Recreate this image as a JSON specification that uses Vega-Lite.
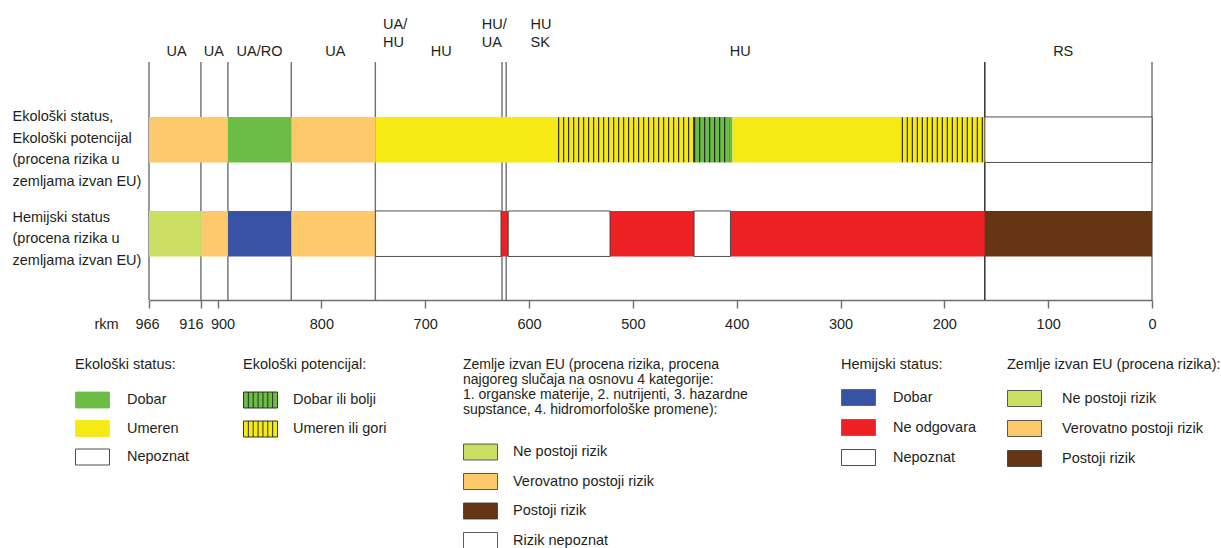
{
  "$schema": "https://vega.github.io/schema/vega-lite/v6.json",
  "width": 1003,
  "height": 238,
  "autosize": {"type": "none"},
  "padding": {"left": 149, "top": 62, "right": 69, "bottom": 248},
  "background": "white",
  "config": {
    "view": {"stroke": null},
    "font": "Liberation Sans",
    "legend": {
      "titleFontWeight": "normal",
      "titleFontSize": 14.5,
      "labelFontSize": 14.5,
      "titleColor": "#231f20",
      "labelColor": "#231f20",
      "padding": 0,
      "titleLimit": 0,
      "labelLimit": 0,
      "symbolSize": 256,
      "titleAnchor": "start",
      "symbolType": "M-1,-1H3.25V1H-1Z"
    }
  },
  "datasets": {
    "borders": [
      {"km": 966, "kind": "edge"},
      {"km": 916, "kind": "border"},
      {"km": 890, "kind": "border"},
      {"km": 829, "kind": "border"},
      {"km": 748, "kind": "border"},
      {"km": 626, "kind": "border"},
      {"km": 622, "kind": "border"},
      {"km": 161, "kind": "main"},
      {"km": 0, "kind": "edge"}
    ],
    "segments": [
      {"row": "Ekološki status,|Ekološki potencijal|(procena rizika u|zemljama izvan EU)", "group": "risk3", "cat": "Verovatno postoji rizik", "from": 966, "to": 890},
      {"row": "Ekološki status,|Ekološki potencijal|(procena rizika u|zemljama izvan EU)", "group": "ecoStatus", "cat": "Dobar", "from": 890, "to": 829},
      {"row": "Ekološki status,|Ekološki potencijal|(procena rizika u|zemljama izvan EU)", "group": "risk3", "cat": "Verovatno postoji rizik", "from": 829, "to": 748},
      {"row": "Ekološki status,|Ekološki potencijal|(procena rizika u|zemljama izvan EU)", "group": "ecoStatus", "cat": "Umeren", "from": 748, "to": 572},
      {"row": "Ekološki status,|Ekološki potencijal|(procena rizika u|zemljama izvan EU)", "group": "ecoPot", "cat": "Umeren ili gori", "from": 572, "to": 441},
      {"row": "Ekološki status,|Ekološki potencijal|(procena rizika u|zemljama izvan EU)", "group": "ecoPot", "cat": "Dobar ili bolji", "from": 441, "to": 407},
      {"row": "Ekološki status,|Ekološki potencijal|(procena rizika u|zemljama izvan EU)", "group": "ecoStatus", "cat": "Dobar", "from": 407, "to": 404},
      {"row": "Ekološki status,|Ekološki potencijal|(procena rizika u|zemljama izvan EU)", "group": "ecoStatus", "cat": "Umeren", "from": 404, "to": 241},
      {"row": "Ekološki status,|Ekološki potencijal|(procena rizika u|zemljama izvan EU)", "group": "ecoPot", "cat": "Umeren ili gori", "from": 241, "to": 161},
      {"row": "Ekološki status,|Ekološki potencijal|(procena rizika u|zemljama izvan EU)", "group": "risk3", "cat": "Rizik nepoznat", "from": 161, "to": 0},
      {"row": "Hemijski status|(procena rizika u|zemljama izvan EU)", "group": "risk5", "cat": "Ne postoji rizik", "from": 966, "to": 916},
      {"row": "Hemijski status|(procena rizika u|zemljama izvan EU)", "group": "risk5", "cat": "Verovatno postoji rizik", "from": 916, "to": 890},
      {"row": "Hemijski status|(procena rizika u|zemljama izvan EU)", "group": "chemStatus", "cat": "Dobar", "from": 890, "to": 829},
      {"row": "Hemijski status|(procena rizika u|zemljama izvan EU)", "group": "risk5", "cat": "Verovatno postoji rizik", "from": 829, "to": 748},
      {"row": "Hemijski status|(procena rizika u|zemljama izvan EU)", "group": "chemStatus", "cat": "Nepoznat", "from": 748, "to": 627},
      {"row": "Hemijski status|(procena rizika u|zemljama izvan EU)", "group": "chemStatus", "cat": "Ne odgovara", "from": 627, "to": 620},
      {"row": "Hemijski status|(procena rizika u|zemljama izvan EU)", "group": "chemStatus", "cat": "Nepoznat", "from": 620, "to": 522},
      {"row": "Hemijski status|(procena rizika u|zemljama izvan EU)", "group": "chemStatus", "cat": "Ne odgovara", "from": 522, "to": 441},
      {"row": "Hemijski status|(procena rizika u|zemljama izvan EU)", "group": "chemStatus", "cat": "Nepoznat", "from": 441, "to": 406},
      {"row": "Hemijski status|(procena rizika u|zemljama izvan EU)", "group": "chemStatus", "cat": "Ne odgovara", "from": 406, "to": 161},
      {"row": "Hemijski status|(procena rizika u|zemljama izvan EU)", "group": "risk5", "cat": "Postoji rizik", "from": 161, "to": 0}
    ]
  },
  "layer": [
    {
      "data": {"name": "borders"},
      "mark": {"type": "rule", "strokeWidth": 1.4},
      "encoding": {
        "x": {
          "field": "km",
          "type": "quantitative",
          "scale": {"domain": [966, 0], "nice": false, "zero": false},
          "axis": {
            "orient": "top",
            "title": null,
            "values": [940, 904, 860, 787, 741, 685, 646, 599, 397, 86],
            "labelExpr": "datum.value == 940 ? 'UA' : datum.value == 904 ? 'UA' : datum.value == 860 ? 'UA/RO' : datum.value == 787 ? 'UA' : datum.value == 741 ? ['UA/', 'HU'] : datum.value == 685 ? 'HU' : datum.value == 646 ? ['HU/', 'UA'] : datum.value == 599 ? ['HU', 'SK'] : datum.value == 397 ? 'HU' : 'RS'",
            "domain": false,
            "ticks": false,
            "tickSize": 0,
            "grid": false,
            "labelFontSize": 14.5,
            "labelColor": "#231f20",
            "labelBaseline": "top",
            "labelLineHeight": 18,
            "labelAlign": {"condition": {"test": "datum.value == 741 || datum.value == 646 || datum.value == 599", "value": "left"}, "value": "center"},
            "labelPadding": {"condition": {"test": "datum.value == 741 || datum.value == 646 || datum.value == 599", "value": 45}, "value": 18},
            "labelOverlap": false,
            "labelFlush": false,
            "labelBound": false
          }
        },
        "color": {
          "condition": {"test": "datum.kind == 'main'", "value": "#231f20"},
          "value": "#6d6e70"
        }
      }
    },
    {
      "data": {"name": "segments"},
      "transform": [{"filter": "datum.group == 'ecoStatus'"}],
      "mark": {"type": "rect"},
      "encoding": {
        "x": {
          "field": "from",
          "type": "quantitative",
          "scale": {"domain": [966, 0], "nice": false, "zero": false},
          "axis": {
            "orient": "bottom",
            "values": [966, 916, 900, 800, 700, 600, 500, 400, 300, 200, 100, 0],
            "format": "d",
            "title": "rkm",
            "titleAngle": 0,
            "titleX": -43,
            "titleY": 24,
            "titleAlign": "center",
            "titleBaseline": "middle",
            "titleFontWeight": "normal",
            "titleFontSize": 14.5,
            "titleColor": "#231f20",
            "tickSize": 8,
            "tickColor": "#6d6e70",
            "tickWidth": 1.4,
            "domainColor": "#6d6e70",
            "domainWidth": 1.5,
            "labelPadding": 9,
            "labelFontSize": 14.5,
            "labelColor": "#231f20",
            "labelFlush": false,
            "labelOverlap": false,
            "labelOffset": {"condition": [{"test": "datum.value == 916", "value": -10}, {"test": "datum.value == 900", "value": 5}, {"test": "datum.value == 966", "value": -2}], "value": 0},
            "grid": false
          }
        },
        "x2": {"field": "to"},
        "y": {
          "field": "row",
          "type": "nominal",
          "sort": null,
          "scale": {
            "domain": ["Ekološki status,|Ekološki potencijal|(procena rizika u|zemljama izvan EU)", "Hemijski status|(procena rizika u|zemljama izvan EU)"],
            "paddingInner": 0.516,
            "paddingOuter": 0.524,
            "align": 0.558
          },
          "axis": {
            "title": null,
            "ticks": false,
            "domain": false,
            "grid": false,
            "labelAlign": "left",
            "labelBaseline": "top",
            "labelPadding": 137,
            "labelExpr": "split(datum.label, '|')",
            "labelLineHeight": 21.5,
            "labelFontSize": 14.5,
            "labelColor": "#231f20",
            "labelLimit": 0,
            "labelOffset": {"condition": {"test": "indexof(datum.value, 'Hemijski') == 0", "value": -23}, "value": -29.5}
          }
        },
        "fill": {
          "field": "cat",
          "type": "nominal",
          "scale": {"domain": ["Dobar", "Umeren", "Nepoznat"], "range": ["#6cbd45", "#f5ea14", "#ffffff"]},
          "legend": {
            "title": "Ekološki status:",
            "orient": "none",
            "legendX": -74,
            "legendY": 296,
            "labelOffset": 35,
            "rowPadding": 7.5,
            "titlePadding": 19,
            "encode": {"symbols": {"update": {"stroke": {"signal": "datum.value == 'Nepoznat' ? '#231f20' : datum.value == 'Dobar' ? '#6cbd45' : '#f5ea14'"}, "strokeWidth": {"value": 0.8}}}}
          }
        }
      }
    },
    {
      "data": {"name": "segments"},
      "transform": [{"filter": "datum.group == 'ecoPot'"}],
      "mark": {"type": "rect"},
      "encoding": {
        "x": {"field": "from", "type": "quantitative", "scale": {"domain": [966, 0], "nice": false, "zero": false}, "axis": null},
        "x2": {"field": "to"},
        "y": {"field": "row", "type": "nominal", "sort": null, "axis": null},
        "fill": {
          "field": "cat",
          "type": "nominal",
          "scale": {"domain": ["Dobar ili bolji", "Umeren ili gori"], "range": ["#6cbd45", "#f5ea14"]},
          "legend": {
            "title": "Ekološki potencijal:",
            "orient": "none",
            "legendX": 94,
            "legendY": 296,
            "labelOffset": 33,
            "rowPadding": 8,
            "titlePadding": 19,
            "symbolType": "M-1,-1H3.25V1H-1Z M-0.393,-1V1 M0.214,-1V1 M0.821,-1V1 M1.429,-1V1 M2.036,-1V1 M2.643,-1V1",
            "encode": {"symbols": {"update": {"stroke": {"value": "#231f20"}, "strokeWidth": {"value": 0.9}}}}
          }
        }
      }
    },
    {
      "data": {"name": "segments"},
      "transform": [{"filter": "datum.group == 'ecoPot'"}],
      "mark": {"type": "rule", "strokeWidth": 45, "strokeDash": [1.1, 3.9], "strokeCap": "butt", "color": "#231f20"},
      "encoding": {
        "x": {"field": "from", "type": "quantitative", "scale": {"domain": [966, 0], "nice": false, "zero": false}, "axis": null},
        "x2": {"field": "to"},
        "y": {"field": "row", "type": "nominal", "sort": null, "axis": null}
      }
    },
    {
      "data": {"name": "segments"},
      "transform": [{"filter": "datum.group == 'risk3'"}],
      "mark": {"type": "rect"},
      "encoding": {
        "x": {"field": "from", "type": "quantitative", "scale": {"domain": [966, 0], "nice": false, "zero": false}, "axis": null},
        "x2": {"field": "to"},
        "y": {"field": "row", "type": "nominal", "sort": null, "axis": null},
        "fill": {
          "field": "cat",
          "type": "nominal",
          "scale": {"domain": ["Ne postoji rizik", "Verovatno postoji rizik", "Postoji rizik", "Rizik nepoznat"], "range": ["#cddf62", "#fdc96b", "#663514", "#ffffff"]},
          "legend": {
            "title": ["Zemlje izvan EU (procena rizika, procena", "najgoreg slučaja na osnovu 4 kategorije:", "1. organske materije, 2. nutrijenti, 3. hazardne", "supstance, 4. hidromorfološke promene):"],
            "titleLineHeight": 15,
            "titleFontSize": 14,
            "orient": "none",
            "legendX": 314,
            "legendY": 296,
            "labelOffset": 33,
            "rowPadding": 8.5,
            "titlePadding": 26.5,
            "encode": {"symbols": {"update": {"stroke": {"value": "#333333"}, "strokeWidth": {"value": 0.8}}}}
          }
        }
      }
    },
    {
      "data": {"name": "segments"},
      "transform": [{"filter": "datum.group == 'chemStatus'"}],
      "mark": {"type": "rect"},
      "encoding": {
        "x": {"field": "from", "type": "quantitative", "scale": {"domain": [966, 0], "nice": false, "zero": false}, "axis": null},
        "x2": {"field": "to"},
        "y": {"field": "row", "type": "nominal", "sort": null, "axis": null},
        "fill": {
          "field": "cat",
          "type": "nominal",
          "scale": {"domain": ["Dobar", "Ne odgovara", "Nepoznat"], "range": ["#3953a4", "#ed2024", "#ffffff"]},
          "legend": {
            "title": "Hemijski status:",
            "orient": "none",
            "legendX": 692,
            "legendY": 296,
            "labelOffset": 35,
            "rowPadding": 9,
            "titlePadding": 16.5,
            "encode": {"symbols": {"update": {"stroke": {"signal": "datum.value == 'Nepoznat' ? '#231f20' : datum.value == 'Dobar' ? '#3953a4' : '#ed2024'"}, "strokeWidth": {"value": 0.8}}}}
          }
        }
      }
    },
    {
      "data": {"name": "segments"},
      "transform": [{"filter": "datum.group == 'risk5'"}],
      "mark": {"type": "rect"},
      "encoding": {
        "x": {"field": "from", "type": "quantitative", "scale": {"domain": [966, 0], "nice": false, "zero": false}, "axis": null},
        "x2": {"field": "to"},
        "y": {"field": "row", "type": "nominal", "sort": null, "axis": null},
        "fill": {
          "field": "cat",
          "type": "nominal",
          "scale": {"domain": ["Ne postoji rizik", "Verovatno postoji rizik", "Postoji rizik"], "range": ["#cddf62", "#fdc96b", "#663514"]},
          "legend": {
            "title": "Zemlje izvan EU (procena rizika):",
            "orient": "none",
            "legendX": 858,
            "legendY": 296,
            "labelOffset": 38,
            "rowPadding": 9,
            "titlePadding": 17.5,
            "encode": {"symbols": {"update": {"stroke": {"value": "#333333"}, "strokeWidth": {"value": 0.8}}}}
          }
        }
      }
    },
    {
      "data": {"name": "segments"},
      "transform": [{"filter": "datum.cat == 'Nepoznat' || datum.cat == 'Rizik nepoznat'"}],
      "mark": {"type": "rect", "filled": false, "stroke": "#3c3c3c", "strokeWidth": 0.9},
      "encoding": {
        "x": {"field": "from", "type": "quantitative", "scale": {"domain": [966, 0], "nice": false, "zero": false}, "axis": null},
        "x2": {"field": "to"},
        "y": {"field": "row", "type": "nominal", "sort": null, "axis": null}
      }
    }
  ],
  "resolve": {
    "scale": {"fill": "independent"},
    "legend": {"fill": "independent"},
    "axis": {"x": "independent", "y": "independent"}
  }
}
